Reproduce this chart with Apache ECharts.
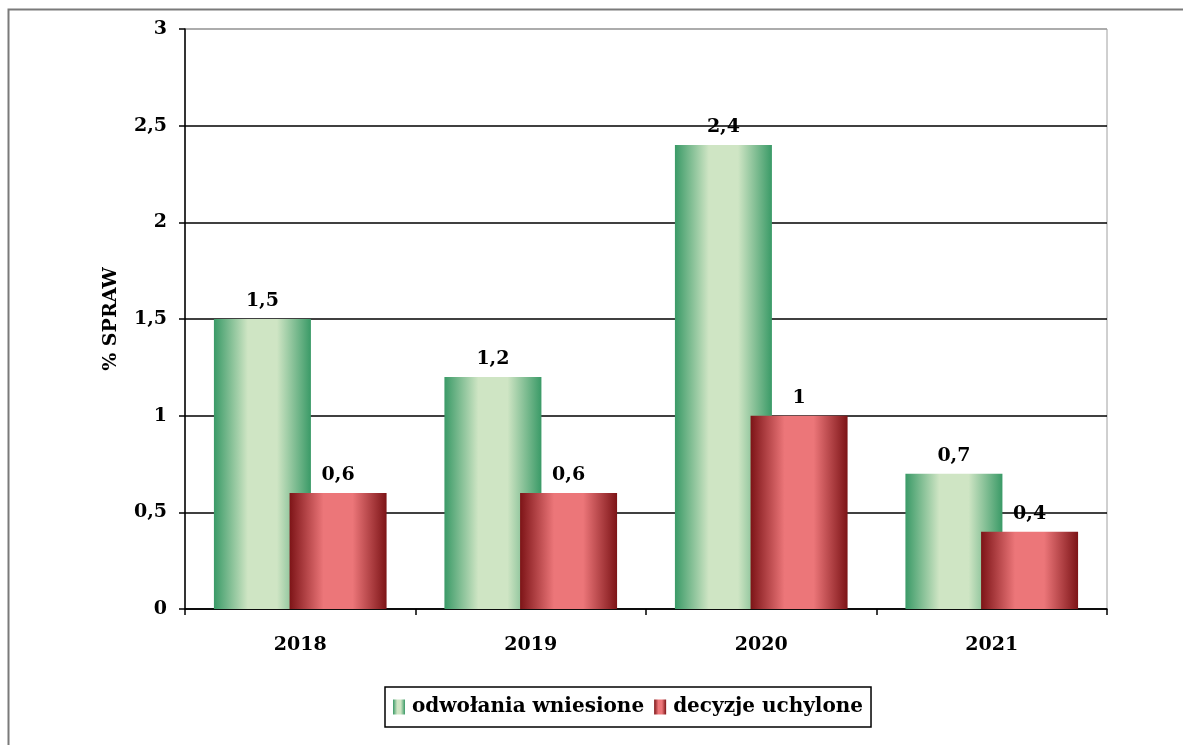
<!DOCTYPE html>
<html><head><meta charset="utf-8">
<script src="https://cdn.jsdelivr.net/npm/echarts@6/dist/echarts.min.js"></script>
<style>html,body{margin:0;padding:0;background:#fff}#c{width:1183px;height:745px}</style>
</head><body><div id="c"></div>
<script>
const categories = ['2018', '2019', '2020', '2021'];
const odwolania = [1.5, 1.2, 2.4, 0.7];
const decyzje = [0.6, 0.6, 1, 0.4];
const seriesNames = ['odwołania wniesione', 'decyzje uchylone'];
const yTicks = { min: 0, max: 3, interval: 0.5 };

const FONT = 'DejaVu Serif';
const FS = 19;
const fmt = v => String(v).replace('.', ',');

function grad(dark, light) {
  return new echarts.graphic.LinearGradient(0, 0, 1, 0, [
    { offset: 0, color: dark },
    { offset: 0.35, color: light },
    { offset: 0.65, color: light },
    { offset: 1, color: dark }
  ]);
}
const greenGrad = grad('#3a9a67', '#cfe5c4');
const redGrad = grad('#7d1417', '#ec7679');

const chart = echarts.init(document.getElementById('c'), null, { renderer: 'canvas' });
chart.setOption({
  animation: false,
  backgroundColor: '#fff',
  graphic: [{
    type: 'rect', shape: { x: 8.5, y: 9.5, width: 1300, height: 900 },
    style: { fill: 'none', stroke: '#7a7a7a', lineWidth: 2 }, silent: true, z: -10
  }],
  grid: { left: 185, right: 76, top: 29, bottom: 136, show: true, borderColor: '#a0a0a0', borderWidth: 1 },
  legend: {
    left: 385, top: 687,
    data: seriesNames,
    itemWidth: 12, itemHeight: 15, itemGap: 10,
    padding: [10, 8, 10, 8],
    borderColor: '#000', borderWidth: 1.5,
    textStyle: { fontFamily: FONT, fontWeight: 'bold', fontSize: 20, color: '#000', padding: [0, 0, 0, 2] },
    icon: 'rect'
  },
  xAxis: {
    type: 'category', data: categories,
    axisLine: { lineStyle: { color: '#000', width: 1.5 } },
    axisTick: { show: true, length: 6, lineStyle: { color: '#000', width: 1.5 } },
    axisLabel: { margin: 27, fontFamily: FONT, fontWeight: 'bold', fontSize: FS, color: '#000' }
  },
  yAxis: {
    type: 'value', min: yTicks.min, max: yTicks.max, interval: yTicks.interval,
    name: '% SPRAW', nameLocation: 'middle', nameGap: 64, nameRotate: 90,
    nameTextStyle: { fontFamily: FONT, fontWeight: 'bold', fontSize: FS, color: '#000' },
    axisLine: { show: true, lineStyle: { color: '#000', width: 1.5 } },
    axisTick: { show: true, length: 6, lineStyle: { color: '#000', width: 1.5 } },
    axisLabel: { margin: 18, fontFamily: FONT, fontWeight: 'bold', fontSize: FS, color: '#000', formatter: fmt },
    splitLine: { show: true, lineStyle: { color: ['#000', '#000', '#000', '#000', '#000', '#000', '#a0a0a0'], width: 1.5 } }
  },
  series: [
    {
      name: seriesNames[0], type: 'bar', data: odwolania,
      barWidth: 97, barGap: '-22%',
      itemStyle: { color: greenGrad },
      label: { show: true, position: 'top', distance: 8, formatter: p => fmt(p.value),
        fontFamily: FONT, fontWeight: 'bold', fontSize: FS, color: '#000' }
    },
    {
      name: seriesNames[1], type: 'bar', data: decyzje,
      barWidth: 97,
      itemStyle: { color: redGrad },
      label: { show: true, position: 'top', distance: 8, formatter: p => fmt(p.value),
        fontFamily: FONT, fontWeight: 'bold', fontSize: FS, color: '#000' }
    }
  ]
});
</script></body></html>
